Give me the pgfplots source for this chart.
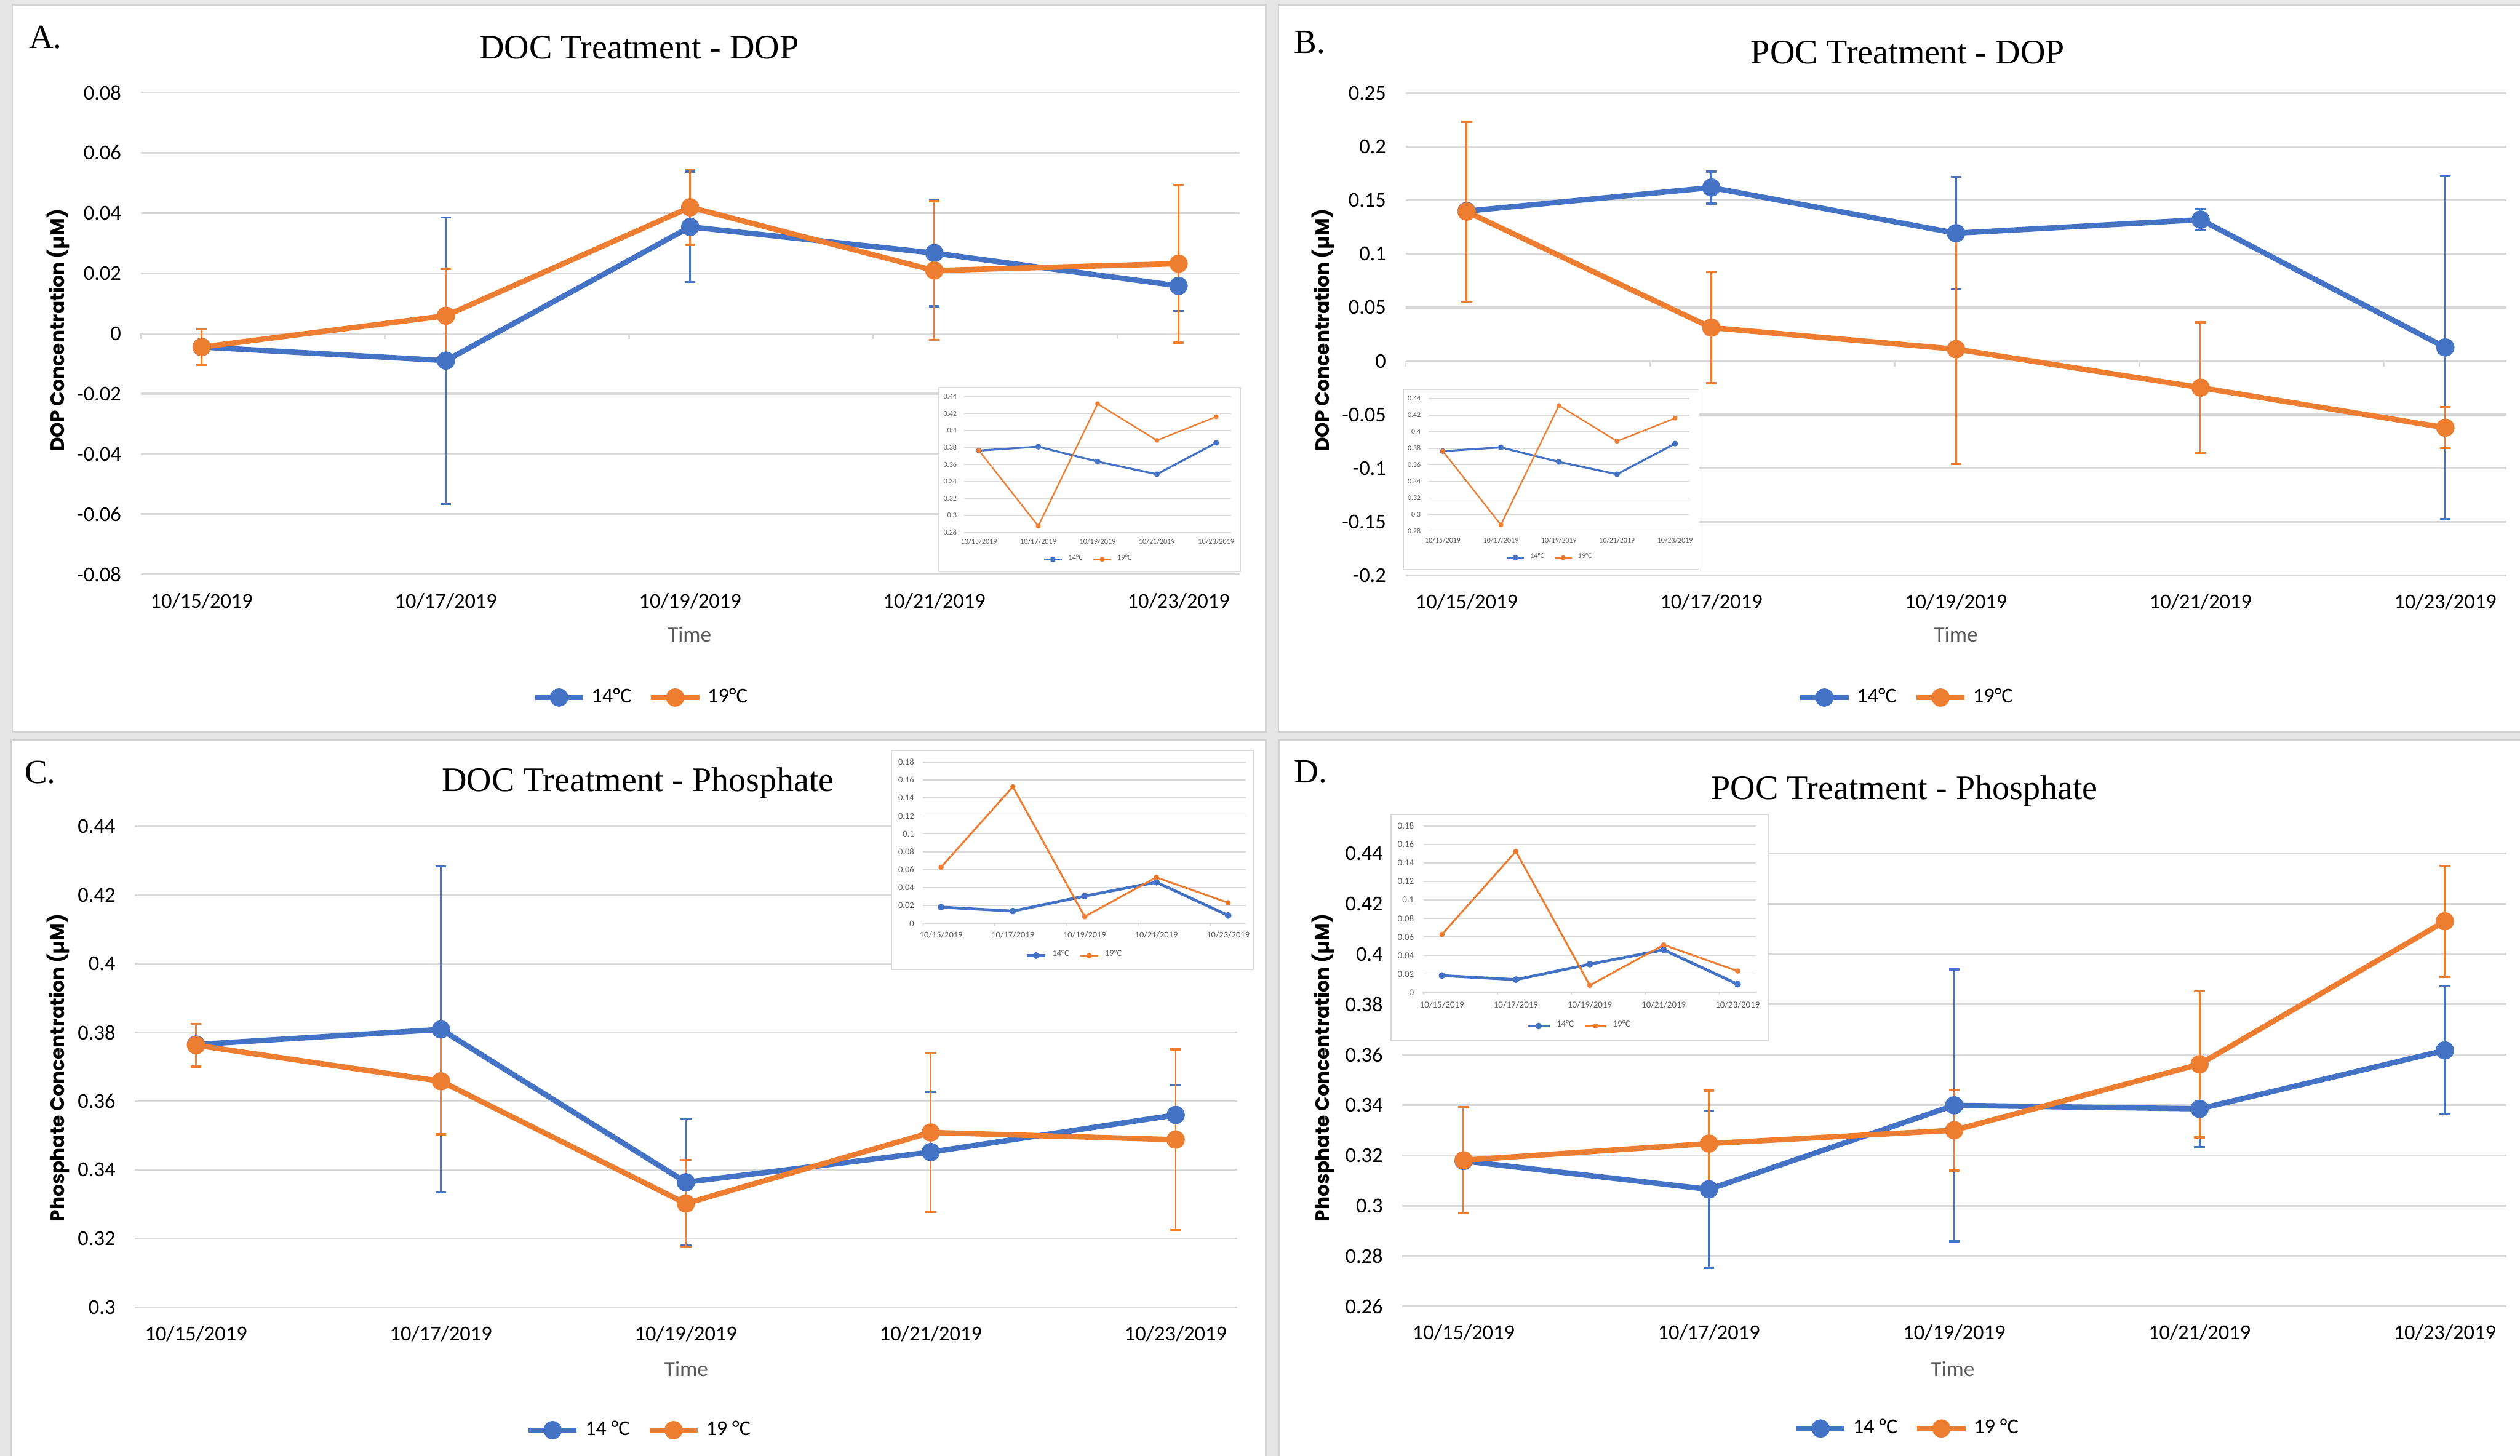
\documentclass[border=0pt]{standalone}
\usepackage{pgfplots}
\pgfplotsset{compat=1.18}
\usepackage{fontspec}
\setmainfont{Liberation Serif}
\newfontfamily\calfont{Carlito}
\newfontfamily\popfont{Poppins}
\definecolor{cA}{HTML}{4472C4}
\definecolor{cB}{HTML}{ED7D31}
\definecolor{gridc}{HTML}{D9D9D9}
\definecolor{bgc}{HTML}{E6E6E6}
\definecolor{frm}{HTML}{D2D2D2}
\definecolor{txt}{HTML}{595959}
\pgfplotsset{
  datelabels/.style={xmin=-0.25,xmax=4.25,xtick={0,1,2,3,4},
    xticklabels={10/15/2019,10/17/2019,10/19/2019,10/21/2019,10/23/2019}},
  mainax/.style={scale only axis, anchor=south west, datelabels, scaled ticks=false,
    axis line style={draw=none}, major tick length=0pt,
    ymajorgrids, grid style={draw=gridc, line width=0.7pt},
    tick label style={font=\calfont\fontsize{7.5}{9}\selectfont, inner sep=0pt},
    yticklabel style={anchor=east, xshift=-6.7pt},
    xticklabel style={anchor=base, yshift=-11.8pt},
    clip=false, legend columns=2,
    legend style={draw=none, fill=none, anchor=center, font=\calfont\fontsize{7.5}{9}\selectfont,
      /tikz/every even column/.append style={column sep=4pt}}},
  mA/.style={color=cA, line width=1.9pt, mark=*, mark size=2.3pt, mark options={solid, fill=cA},
    error bars/.cd, y dir=both, y explicit,
    error bar style={line width=0.65pt, color=cA},
    error mark options={rotate=90, line width=0.75pt, mark size=1.9pt, color=cA}},
  mB/.style={color=cB, line width=1.9pt, mark=*, mark size=2.3pt, mark options={solid, fill=cB},
    error bars/.cd, y dir=both, y explicit,
    error bar style={line width=0.65pt, color=cB},
    error mark options={rotate=90, line width=0.75pt, mark size=1.9pt, color=cB}},
  inax/.style={scale only axis, anchor=south west, datelabels, scaled ticks=false,
    axis line style={draw=none}, major tick length=0pt,
    ymajorgrids, grid style={draw=gridc, line width=0.35pt},
    tick label style={inner sep=0pt, text=txt},
    yticklabel style={anchor=east},
    xticklabel style={anchor=base},
    clip=false, legend columns=2,
    legend style={draw=none, fill=none, anchor=center, text=txt, inner sep=0pt,
      /tikz/every even column/.append style={column sep=1.5pt}}},
  iA/.style={color=cA, line width=0.7pt, mark=*, mark size=0.65pt, mark options={solid, fill=cA}},
  iB/.style={color=cB, line width=0.5pt, mark=*, mark size=0.6pt, mark options={solid, fill=cB}},
}
\begin{document}
\begin{tikzpicture}[x=0.02cm,y=0.02cm]
\useasboundingbox (0,0) rectangle (1568,906);
\fill[bgc] (0,0) rectangle (1568,906);
% panel frames
\filldraw[fill=white, draw=frm, line width=0.6pt] (7.7,450.5) rectangle (787.5,903);
\filldraw[fill=white, draw=frm, line width=0.6pt] (795.5,450.5) rectangle (1572,903);
\filldraw[fill=white, draw=frm, line width=0.6pt] (7,-3) rectangle (787.5,445.5);
\filldraw[fill=white, draw=frm, line width=0.6pt] (795.6,-3) rectangle (1572,445.3);

% ---------------- Panel A ----------------
\begin{axis}[mainax, at={(1.75cm,10.972cm)}, width=13.68cm, height=6.0cm,
  ymin=-0.08, ymax=0.08,
  ytick={-0.08,-0.06,-0.04,-0.02,0,0.02,0.04,0.06,0.08},
  yticklabels={-0.08,-0.06,-0.04,-0.02,0,0.02,0.04,0.06,0.08},
  legend style={at={(axis description cs:0.4569,-0.2553)}}]
\pgfplotsinvokeforeach{-0.25,0.75,1.75,2.75,3.75}{\draw[gridc, line width=0.7pt] (axis cs:#1,0) -- ++(0pt,-2pt);}
\addplot[mA] coordinates {(0,-0.0045) +- (0,0.0015) (1,-0.0090) +- (0,0.0475) (2,0.0354) +- (0,0.0183) (3,0.0267) +- (0,0.0177) (4,0.0158) +- (0,0.0083)};
\addlegendentry{14°C}
\addplot[mB] coordinates {(0,-0.0045) +- (0,0.006) (1,0.0059) +- (0,0.0155) (2,0.0419) +- (0,0.0125) (3,0.0209) +- (0,0.0230) (4,0.0232) +- (0,0.0262)};
\addlegendentry{19°C}
\end{axis}

% ---------------- Panel B ----------------
\begin{axis}[mainax, at={(17.494cm,10.962cm)}, width=13.704cm, height=6.0cm,
  ymin=-0.2, ymax=0.25,
  ytick={-0.2,-0.15,-0.1,-0.05,0,0.05,0.1,0.15,0.2,0.25},
  yticklabels={-0.2,-0.15,-0.1,-0.05,0,0.05,0.1,0.15,0.2,0.25},
  legend style={at={(axis description cs:0.4565,-0.2537)}}]
\pgfplotsinvokeforeach{-0.25,0.75,1.75,2.75,3.75}{\draw[gridc, line width=0.7pt] (axis cs:#1,0) -- ++(0pt,-2pt);}
\addplot[mA] coordinates {(0,0.140) +- (0,0.004) (1,0.162) +- (0,0.015) (2,0.1194) +- (0,0.0525) (3,0.132) +- (0,0.010) (4,0.0127) +- (0,0.160)};
\addlegendentry{14°C}
\addplot[mB] coordinates {(0,0.1395) +- (0,0.084) (1,0.0312) +- (0,0.052) (2,0.0111) +- (0,0.107) (3,-0.0248) +- (0,0.061) (4,-0.0622) +- (0,0.019)};
\addlegendentry{19°C}
\end{axis}

% ---------------- Panel C ----------------
\begin{axis}[mainax, at={(1.678cm,1.85cm)}, width=13.718cm, height=5.984cm,
  ymin=0.3, ymax=0.44,
  ytick={0.3,0.32,0.34,0.36,0.38,0.4,0.42,0.44},
  yticklabels={0.3,0.32,0.34,0.36,0.38,0.4,0.42,0.44},
  legend style={at={(axis description cs:0.4594,-0.2557)}}]
\addplot[mA] coordinates {(0,0.3765) +- (0,0.0015) (1,0.3809) +- (0,0.0475) (2,0.3364) +- (0,0.0185) (3,0.3452) +- (0,0.0175) (4,0.3560) +- (0,0.0087)};
\addlegendentry{14 °C}
\addplot[mB] coordinates {(0,0.3763) +- (0,0.0062) (1,0.3658) +- (0,0.0154) (2,0.3302) +- (0,0.0127) (3,0.3509) +- (0,0.0232) (4,0.3488) +- (0,0.0263)};
\addlegendentry{19 °C}
\end{axis}

% ---------------- Panel D ----------------
\begin{axis}[mainax, at={(17.454cm,1.86cm)}, width=13.74cm, height=5.64cm,
  ymin=0.26, ymax=0.44,
  ytick={0.26,0.28,0.3,0.32,0.34,0.36,0.38,0.4,0.42,0.44},
  yticklabels={0.26,0.28,0.3,0.32,0.34,0.36,0.38,0.4,0.42,0.44},
  legend style={at={(axis description cs:0.4590,-0.2695)}}]
\addplot[mA] coordinates {(0,0.3178) +- (0,0.002) (1,0.3065) +- (0,0.0312) (2,0.3399) +- (0,0.054) (3,0.3385) +- (0,0.0152) (4,0.3617) +- (0,0.0254)};
\addlegendentry{14 °C}
\addplot[mB] coordinates {(0,0.3181) +- (0,0.021) (1,0.3247) +- (0,0.021) (2,0.3300) +- (0,0.016) (3,0.3562) +- (0,0.029) (4,0.4130) +- (0,0.022)};
\addlegendentry{19 °C}
\end{axis}

% ---------------- Insets ----------------
\filldraw[fill=white, draw=gridc, line width=0.4pt] (584.2,550.4) rectangle (771.8,664.8);
\filldraw[fill=white, draw=gridc, line width=0.4pt] (873.4,551.7) rectangle (1057.1,663.7);
\filldraw[fill=white, draw=gridc, line width=0.4pt] (554.7,302.5) rectangle (779.7,438.9);
\filldraw[fill=white, draw=gridc, line width=0.4pt] (865.4,258.4) rectangle (1100.1,399.1);

\begin{axis}[inax, at={(12.0cm,11.494cm)}, width=3.322cm, height=1.692cm,
  ymin=0.28, ymax=0.44,
  ytick={0.28,0.3,0.32,0.34,0.36,0.38,0.4,0.42,0.44},
  yticklabels={0.28,0.3,0.32,0.34,0.36,0.38,0.4,0.42,0.44},
  tick label style={font=\calfont\fontsize{2.65}{3}\selectfont},
  yticklabel style={xshift=-2.4pt}, xticklabel style={yshift=-4.2pt},
  legend style={at={(axis description cs:0.4726,-0.1974)}, font=\calfont\fontsize{2.7}{3}\selectfont},
  legend image code/.code={\draw[mark repeat=2,mark phase=2,#1] plot coordinates {(0cm,0cm) (0.11cm,0cm) (0.22cm,0cm)};}]
\addplot[iA] coordinates {(0,0.3765) (1,0.3811) (2,0.3635) (3,0.3486) (4,0.3856)};
\addlegendentry{14°C}
\addplot[iB] coordinates {(0,0.3765) (1,0.2876) (2,0.4316) (3,0.3885) (4,0.4163)};
\addlegendentry{19°C}
\end{axis}

\begin{axis}[inax, at={(17.778cm,11.512cm)}, width=3.252cm, height=1.65cm,
  ymin=0.28, ymax=0.44,
  ytick={0.28,0.3,0.32,0.34,0.36,0.38,0.4,0.42,0.44},
  yticklabels={0.28,0.3,0.32,0.34,0.36,0.38,0.4,0.42,0.44},
  tick label style={font=\calfont\fontsize{2.6}{3}\selectfont},
  yticklabel style={xshift=-2.5pt}, xticklabel style={yshift=-4.2pt},
  legend style={at={(axis description cs:0.4723,-0.2)}, font=\calfont\fontsize{2.6}{3}\selectfont},
  legend image code/.code={\draw[mark repeat=2,mark phase=2,#1] plot coordinates {(0cm,0cm) (0.105cm,0cm) (0.21cm,0cm)};}]
\addplot[iA] coordinates {(0,0.3765) (1,0.3811) (2,0.3635) (3,0.3486) (4,0.3856)};
\addlegendentry{14°C}
\addplot[iB] coordinates {(0,0.3765) (1,0.2876) (2,0.4316) (3,0.3885) (4,0.4163)};
\addlegendentry{19°C}
\end{axis}

\begin{axis}[inax, at={(11.49cm,6.626cm)}, width=4.02cm, height=2.01cm,
  ymin=0, ymax=0.18,
  ytick={0,0.02,0.04,0.06,0.08,0.1,0.12,0.14,0.16,0.18},
  yticklabels={0,0.02,0.04,0.06,0.08,0.1,0.12,0.14,0.16,0.18},
  tick label style={font=\calfont\fontsize{3.15}{3.5}\selectfont},
  yticklabel style={xshift=-3pt}, xticklabel style={yshift=-5pt},
  legend style={at={(axis description cs:0.4746,-0.198)}, font=\calfont\fontsize{3.15}{3.5}\selectfont},
  legend image code/.code={\draw[mark repeat=2,mark phase=2,#1] plot coordinates {(0cm,0cm) (0.115cm,0cm) (0.23cm,0cm)};}]
\pgfplotsinvokeforeach{-0.25,0.75,1.75,2.75,3.75}{\draw[gridc, line width=0.35pt] (axis cs:#1,0) -- ++(0pt,-0.85pt);}
\addplot[iA, line width=1pt] coordinates {(0,0.0183) (1,0.0139) (2,0.0306) (3,0.0461) (4,0.0090)};
\addlegendentry{14°C}
\addplot[iB, line width=0.65pt] coordinates {(0,0.0628) (1,0.1525) (2,0.0077) (3,0.0515) (4,0.0232)};
\addlegendentry{19°C}
\end{axis}

\begin{axis}[inax, at={(17.718cm,5.768cm)}, width=4.14cm, height=2.072cm,
  ymin=0, ymax=0.18,
  ytick={0,0.02,0.04,0.06,0.08,0.1,0.12,0.14,0.16,0.18},
  yticklabels={0,0.02,0.04,0.06,0.08,0.1,0.12,0.14,0.16,0.18},
  tick label style={font=\calfont\fontsize{3.25}{3.6}\selectfont},
  yticklabel style={xshift=-3.2pt}, xticklabel style={yshift=-5.4pt},
  legend style={at={(axis description cs:0.4739,-0.2017)}, font=\calfont\fontsize{3.25}{3.6}\selectfont},
  legend image code/.code={\draw[mark repeat=2,mark phase=2,#1] plot coordinates {(0cm,0cm) (0.135cm,0cm) (0.27cm,0cm)};}]
\pgfplotsinvokeforeach{-0.25,0.75,1.75,2.75,3.75}{\draw[gridc, line width=0.35pt] (axis cs:#1,0) -- ++(0pt,-0.85pt);}
\addplot[iA, line width=1pt] coordinates {(0,0.0183) (1,0.0139) (2,0.0306) (3,0.0461) (4,0.0090)};
\addlegendentry{14°C}
\addplot[iB, line width=0.65pt] coordinates {(0,0.0628) (1,0.1525) (2,0.0077) (3,0.0515) (4,0.0232)};
\addlegendentry{19°C}
\end{axis}

% ---------------- Texts ----------------
\node[anchor=base, inner sep=0pt, font=\fontsize{12.2}{14}\selectfont] at (397.7,869.4) {DOC Treatment - DOP};
\node[anchor=base, inner sep=0pt, font=\fontsize{12.2}{14}\selectfont] at (1187,866.4) {POC Treatment - DOP};
\node[anchor=base, inner sep=0pt, font=\fontsize{12.2}{14}\selectfont] at (397,413.5) {DOC Treatment - Phosphate};
\node[anchor=base, inner sep=0pt, font=\fontsize{12.2}{14}\selectfont] at (1185,408.7) {POC Treatment - Phosphate};
\node[anchor=base west, inner sep=0pt, font=\fontsize{12}{14}\selectfont] at (17.7,876) {A.};
\node[anchor=base west, inner sep=0pt, font=\fontsize{12}{14}\selectfont] at (805,873) {B.};
\node[anchor=base west, inner sep=0pt, font=\fontsize{12}{14}\selectfont] at (15,418.4) {C.};
\node[anchor=base west, inner sep=0pt, font=\fontsize{12}{14}\selectfont] at (805,418.7) {D.};
\node[rotate=90, inner sep=0pt, font=\popfont\bfseries\fontsize{6.8}{8}\selectfont] at (36,700.5) {DOP Concentration (µM)};
\node[rotate=90, inner sep=0pt, font=\popfont\bfseries\fontsize{6.8}{8}\selectfont] at (823,700.5) {DOP Concentration (µM)};
\node[rotate=90, inner sep=0pt, font=\popfont\bfseries\fontsize{6.8}{8}\selectfont] at (36,241.5) {Phosphate Concentration (µM)};
\node[rotate=90, inner sep=0pt, font=\popfont\bfseries\fontsize{6.8}{8}\selectfont] at (823,241.5) {Phosphate Concentration (µM)};
\node[inner sep=0pt, text=txt, font=\calfont\fontsize{7.7}{9}\selectfont] at (429,511) {Time};
\node[inner sep=0pt, text=txt, font=\calfont\fontsize{7.7}{9}\selectfont] at (1217,511) {Time};
\node[inner sep=0pt, text=txt, font=\calfont\fontsize{7.7}{9}\selectfont] at (427,54) {Time};
\node[inner sep=0pt, text=txt, font=\calfont\fontsize{7.7}{9}\selectfont] at (1215,54) {Time};
\end{tikzpicture}
\end{document}
